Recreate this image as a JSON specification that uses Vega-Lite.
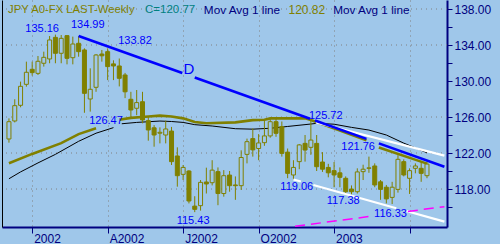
{
  "$schema": "https://vega.github.io/schema/vega-lite/v6.json",
  "width": 445,
  "height": 227,
  "autosize": {"type": "none"},
  "padding": {"left": 2, "top": 0, "right": 53, "bottom": 17},
  "background": "#9fc7ea",
  "config": {"view": {"stroke": null}, "font": "Liberation Sans"},
  "datasets": {
    "candles": [
      {"d":"2001-12-07","o":123.56,"h":125.85,"l":123.15,"c":125.48},
      {"d":"2001-12-14","o":125.56,"h":127.97,"l":125.4,"c":127.26},
      {"d":"2001-12-21","o":127.3,"h":129.93,"l":127.08,"c":129.41},
      {"d":"2001-12-28","o":129.63,"h":132.15,"l":129.37,"c":130.97},
      {"d":"2002-01-04","o":131.3,"h":132.15,"l":130.6,"c":130.93},
      {"d":"2002-01-11","o":130.85,"h":132.78,"l":130.67,"c":132.19},
      {"d":"2002-01-18","o":131.97,"h":133.26,"l":131.6,"c":132.63},
      {"d":"2002-01-25","o":132.45,"h":135.0,"l":131.97,"c":134.56},
      {"d":"2002-02-01","o":134.85,"h":135.16,"l":131.97,"c":133.08},
      {"d":"2002-02-08","o":133.08,"h":135.11,"l":131.97,"c":134.74},
      {"d":"2002-02-15","o":135.04,"h":135.1,"l":131.85,"c":132.52},
      {"d":"2002-02-22","o":132.59,"h":134.93,"l":131.85,"c":134.11},
      {"d":"2002-03-01","o":134.19,"h":134.99,"l":132.7,"c":133.26},
      {"d":"2002-03-08","o":133.45,"h":133.63,"l":126.47,"c":128.63},
      {"d":"2002-03-15","o":128.0,"h":131.41,"l":126.6,"c":129.08},
      {"d":"2002-03-22","o":129.3,"h":133.0,"l":128.8,"c":132.89},
      {"d":"2002-03-29","o":133.0,"h":133.45,"l":132.15,"c":132.8},
      {"d":"2002-04-05","o":133.26,"h":133.63,"l":130.1,"c":131.6},
      {"d":"2002-04-12","o":131.9,"h":132.3,"l":130.1,"c":131.67},
      {"d":"2002-04-19","o":131.67,"h":132.5,"l":129.4,"c":130.3},
      {"d":"2002-04-26","o":130.67,"h":130.9,"l":128.1,"c":128.8},
      {"d":"2002-05-03","o":127.97,"h":128.8,"l":125.86,"c":126.78},
      {"d":"2002-05-10","o":126.97,"h":129.0,"l":126.2,"c":127.6},
      {"d":"2002-05-17","o":127.7,"h":128.8,"l":125.3,"c":125.67},
      {"d":"2002-05-24","o":125.6,"h":126.04,"l":123.37,"c":124.56},
      {"d":"2002-05-31","o":124.8,"h":125.1,"l":122.7,"c":124.0},
      {"d":"2002-06-07","o":124.2,"h":124.85,"l":123.07,"c":124.3},
      {"d":"2002-06-14","o":124.0,"h":125.6,"l":123.07,"c":124.67},
      {"d":"2002-06-21","o":124.44,"h":124.9,"l":120.67,"c":121.04},
      {"d":"2002-06-28","o":121.67,"h":122.63,"l":118.26,"c":119.48},
      {"d":"2002-07-05","o":119.63,"h":120.67,"l":119.0,"c":120.4},
      {"d":"2002-07-12","o":120.0,"h":120.1,"l":116.4,"c":116.67},
      {"d":"2002-07-19","o":116.1,"h":117.2,"l":115.43,"c":115.74},
      {"d":"2002-07-26","o":116.15,"h":119.0,"l":115.6,"c":118.74},
      {"d":"2002-08-02","o":118.78,"h":120.37,"l":117.5,"c":118.56},
      {"d":"2002-08-09","o":118.7,"h":121.2,"l":118.4,"c":120.1},
      {"d":"2002-08-16","o":119.93,"h":120.4,"l":116.2,"c":117.5},
      {"d":"2002-08-23","o":117.5,"h":120.1,"l":117.15,"c":119.48},
      {"d":"2002-08-30","o":119.55,"h":120.0,"l":117.7,"c":118.37},
      {"d":"2002-09-06","o":118.45,"h":119.4,"l":116.8,"c":118.37},
      {"d":"2002-09-13","o":118.37,"h":122.3,"l":117.9,"c":121.5},
      {"d":"2002-09-20","o":121.85,"h":123.6,"l":120.85,"c":123.26},
      {"d":"2002-09-27","o":123.6,"h":124.74,"l":121.6,"c":122.35},
      {"d":"2002-10-04","o":122.5,"h":124.1,"l":121.2,"c":123.12},
      {"d":"2002-10-11","o":123.15,"h":125.67,"l":122.8,"c":123.9},
      {"d":"2002-10-18","o":123.9,"h":125.85,"l":123.7,"c":125.48},
      {"d":"2002-10-25","o":125.48,"h":125.85,"l":123.8,"c":124.19},
      {"d":"2002-11-01","o":124.93,"h":125.5,"l":121.6,"c":121.96},
      {"d":"2002-11-08","o":122.1,"h":122.5,"l":119.2,"c":119.74},
      {"d":"2002-11-15","o":119.56,"h":121.2,"l":119.06,"c":120.4},
      {"d":"2002-11-22","o":121.04,"h":123.0,"l":120.2,"c":122.9},
      {"d":"2002-11-29","o":123.07,"h":124.0,"l":121.04,"c":122.33},
      {"d":"2002-12-06","o":122.63,"h":125.72,"l":121.8,"c":123.44},
      {"d":"2002-12-13","o":123.07,"h":124.0,"l":120.0,"c":120.48},
      {"d":"2002-12-20","o":121.0,"h":122.1,"l":119.9,"c":120.2},
      {"d":"2002-12-27","o":120.4,"h":120.8,"l":119.3,"c":119.8},
      {"d":"2003-01-03","o":120.04,"h":121.0,"l":118.2,"c":119.56},
      {"d":"2003-01-10","o":119.8,"h":120.4,"l":118.2,"c":119.3},
      {"d":"2003-01-17","o":119.19,"h":119.4,"l":117.38,"c":117.7},
      {"d":"2003-01-24","o":118.0,"h":118.4,"l":117.4,"c":117.7},
      {"d":"2003-01-31","o":117.7,"h":120.3,"l":117.5,"c":119.9},
      {"d":"2003-02-07","o":119.93,"h":120.7,"l":119.0,"c":120.2},
      {"d":"2003-02-14","o":120.3,"h":121.6,"l":119.8,"c":120.35},
      {"d":"2003-02-21","o":120.56,"h":120.85,"l":118.2,"c":118.45},
      {"d":"2003-02-28","o":118.8,"h":119.0,"l":116.8,"c":117.96},
      {"d":"2003-03-07","o":118.2,"h":118.45,"l":116.4,"c":116.9},
      {"d":"2003-03-14","o":117.07,"h":118.8,"l":116.33,"c":118.2},
      {"d":"2003-03-21","o":117.96,"h":121.76,"l":117.6,"c":121.3},
      {"d":"2003-03-28","o":121.04,"h":121.3,"l":119.4,"c":119.56},
      {"d":"2003-04-04","o":119.19,"h":120.3,"l":117.45,"c":120.04},
      {"d":"2003-04-11","o":120.3,"h":120.85,"l":119.74,"c":120.56},
      {"d":"2003-04-18","o":120.3,"h":121.04,"l":118.8,"c":119.74},
      {"d":"2003-04-25","o":119.48,"h":121.04,"l":119.2,"c":120.77}
    ],
    "lines": [
      {"line":"ma1","seg":"a","d":"2001-12-07","p":120.86},
      {"line":"ma1","seg":"a","d":"2002-01-04","p":121.9},
      {"line":"ma1","seg":"a","d":"2002-02-08","p":123.1},
      {"line":"ma1","seg":"a","d":"2002-03-01","p":124.1},
      {"line":"ma1","seg":"a","d":"2002-03-22","p":124.75},
      {"line":"ma1","seg":"b","d":"2002-04-19","p":125.7},
      {"line":"ma1","seg":"b","d":"2002-05-03","p":125.9},
      {"line":"ma1","seg":"b","d":"2002-05-24","p":126.05},
      {"line":"ma1","seg":"b","d":"2002-06-07","p":126.15},
      {"line":"ma1","seg":"b","d":"2002-06-21","p":126.05},
      {"line":"ma1","seg":"b","d":"2002-07-05","p":125.85},
      {"line":"ma1","seg":"b","d":"2002-07-19","p":125.45},
      {"line":"ma1","seg":"b","d":"2002-08-02","p":125.3},
      {"line":"ma1","seg":"b","d":"2002-09-06","p":125.4},
      {"line":"ma1","seg":"b","d":"2002-09-27","p":125.65},
      {"line":"ma1","seg":"b","d":"2002-10-11","p":125.7},
      {"line":"ma1","seg":"b","d":"2002-10-18","p":125.85},
      {"line":"ma1","seg":"b","d":"2002-11-29","p":125.85},
      {"line":"ma1","seg":"b","d":"2002-12-06","p":125.67},
      {"line":"ma1","seg":"b","d":"2003-01-10","p":124.5},
      {"line":"ma1","seg":"b","d":"2003-02-11","p":123.41},
      {"line":"ma1","seg":"c","d":"2003-02-26","p":122.61},
      {"line":"ma1","seg":"c","d":"2003-04-25","p":120.82},
      {"line":"ma2","seg":"a","d":"2001-12-07","p":119.14},
      {"line":"ma2","seg":"a","d":"2001-12-21","p":119.9},
      {"line":"ma2","seg":"a","d":"2002-01-11","p":120.9},
      {"line":"ma2","seg":"a","d":"2002-02-01","p":121.85},
      {"line":"ma2","seg":"a","d":"2002-03-01","p":123.3},
      {"line":"ma2","seg":"a","d":"2002-03-22","p":124.2},
      {"line":"ma2","seg":"a","d":"2002-04-12","p":124.82},
      {"line":"ma2","seg":"b","d":"2002-04-22","p":125.25},
      {"line":"ma2","seg":"b","d":"2002-05-10","p":125.4},
      {"line":"ma2","seg":"b","d":"2002-06-07","p":125.55},
      {"line":"ma2","seg":"b","d":"2002-06-21","p":125.5},
      {"line":"ma2","seg":"b","d":"2002-07-05","p":125.4},
      {"line":"ma2","seg":"b","d":"2002-07-19","p":125.15},
      {"line":"ma2","seg":"b","d":"2002-08-09","p":125.0},
      {"line":"ma2","seg":"b","d":"2002-09-06","p":124.7},
      {"line":"ma2","seg":"b","d":"2002-09-27","p":124.65},
      {"line":"ma2","seg":"b","d":"2002-10-18","p":124.75},
      {"line":"ma2","seg":"b","d":"2002-11-08","p":124.95},
      {"line":"ma2","seg":"b","d":"2002-12-06","p":125.22},
      {"line":"ma2","seg":"b","d":"2002-12-13","p":125.3},
      {"line":"ma2","seg":"b","d":"2003-01-03","p":125.2},
      {"line":"ma2","seg":"b","d":"2003-01-24","p":124.85},
      {"line":"ma2","seg":"b","d":"2003-02-14","p":124.55},
      {"line":"ma2","seg":"b","d":"2003-03-07","p":124.0},
      {"line":"ma2","seg":"b","d":"2003-03-28","p":123.1},
      {"line":"ma2","seg":"b","d":"2003-04-25","p":122.03},
      {"line":"blue","seg":"1","d":"2002-03-01","p":134.99},
      {"line":"blue","seg":"1","d":"2002-07-04","p":130.88},
      {"line":"blue","seg":"2","d":"2002-07-19","p":130.38},
      {"line":"blue","seg":"2","d":"2002-12-05","p":125.8},
      {"line":"blue","seg":"3","d":"2002-12-11","p":125.61},
      {"line":"blue","seg":"3","d":"2003-02-11","p":123.57},
      {"line":"blue","seg":"4","d":"2003-02-26","p":123.07},
      {"line":"blue","seg":"4","d":"2003-05-16","p":120.47},
      {"line":"wu","seg":"1","d":"2002-12-12","p":125.39},
      {"line":"wu","seg":"1","d":"2003-05-16","p":121.71},
      {"line":"wl","seg":"1","d":"2002-11-15","p":119.06},
      {"line":"wl","seg":"1","d":"2002-11-24","p":118.83},
      {"line":"wl","seg":"2","d":"2002-12-09","p":118.44},
      {"line":"wl","seg":"2","d":"2003-03-19","p":115.87},
      {"line":"wl","seg":"3","d":"2003-03-31","p":115.56},
      {"line":"wl","seg":"3","d":"2003-05-16","p":114.38},
      {"line":"mg","seg":"1","d":"2002-11-17","p":113.86},
      {"line":"mg","seg":"1","d":"2003-02-17","p":114.98},
      {"line":"mg","seg":"2","d":"2003-04-02","p":115.51},
      {"line":"mg","seg":"2","d":"2003-05-16","p":116.04}
    ],
    "labels": [
      {"d":"2002-01-16","p":135.78,"t":"135.16","k":"price"},
      {"d":"2002-03-12","p":136.17,"t":"134.99","k":"price"},
      {"d":"2002-05-08","p":134.41,"t":"133.82","k":"price"},
      {"d":"2002-04-03","p":125.56,"t":"126.47","k":"price"},
      {"d":"2002-12-24","p":126.14,"t":"125.72","k":"price"},
      {"d":"2003-02-01","p":122.63,"t":"121.76","k":"price"},
      {"d":"2002-11-19","p":118.22,"t":"119.06","k":"price"},
      {"d":"2003-01-14","p":116.7,"t":"117.38","k":"price"},
      {"d":"2003-03-12","p":115.22,"t":"116.33","k":"price"},
      {"d":"2002-07-17","p":114.47,"t":"115.43","k":"price"},
      {"d":"2002-07-12","p":131.28,"t":"D","k":"wave"}
    ],
    "header": [
      {"d":"2001-12-06","p":137.89,"t":"JPY A0-FX LAST-Weekly","k":"sym"},
      {"d":"2002-05-20","p":137.89,"t":"C=120.77","k":"close"},
      {"d":"2002-07-30","p":137.89,"t":"Mov Avg 1 line","k":"ma"},
      {"d":"2002-11-09","p":137.89,"t":"120.82","k":"mav"},
      {"d":"2003-01-02","p":137.89,"t":"Mov Avg 1 line","k":"ma"}
    ],
    "gridlevels": [{"g": 118}, {"g": 122}, {"g": 126}, {"g": 134}, {"g": 138}]
  },
  "resolve": {"axis": {"y": "independent"}},
  "layer": [
    {
      "data": {"name": "candles"},
      "mark": {"type": "point", "opacity": 0},
      "encoding": {
        "y": {"field": "l", "type": "quantitative", "scale": {"domain": [113.78, 139], "nice": false, "zero": false},
          "axis": {"orient": "left", "labels": false, "ticks": false, "grid": false, "title": null,
            "domainColor": "#000000", "domainWidth": 1}}
      }
    },
    {
      "data": {"name": "gridlevels"},
      "mark": {"type": "rule", "color": "#808080", "strokeWidth": 1, "strokeDash": [1, 4]},
      "encoding": {
        "y": {"field": "g", "type": "quantitative", "scale": {"domain": [113.78, 139], "nice": false, "zero": false},
          "axis": {
            "orient": "right",
            "values": [116, 118, 120, 122, 124, 126, 128, 130, 132, 134, 136, 138],
            "labelExpr": "datum.value % 4 == 2 ? format(datum.value, '.2f') : ''",
            "title": null,
            "grid": false,
            "domainColor": "#000080", "domainWidth": 2,
            "tickColor": "#000080", "tickSize": 5, "tickWidth": 1,
            "labelColor": "#000080", "labelFont": "Liberation Sans", "labelFontSize": 12,
            "labelPadding": 2
          }}
      }
    },
    {
      "encoding": {
        "x": {
          "field": "d", "type": "temporal",
          "scale": {"type": "utc", "domain": [
            {"year": 2001, "month": 12, "date": 4, "hours": 15, "minutes": 30, "utc": true},
            {"year": 2003, "month": 5, "date": 13, "hours": 2, "minutes": 30, "utc": true}]},
          "axis": {
            "values": [
              {"year": 2002, "month": 1, "date": 4, "utc": true},
              {"year": 2002, "month": 4, "date": 5, "utc": true},
              {"year": 2002, "month": 7, "date": 5, "utc": true},
              {"year": 2002, "month": 10, "date": 4, "utc": true},
              {"year": 2003, "month": 1, "date": 3, "utc": true},
              {"year": 2003, "month": 4, "date": 4, "utc": true}],
            "labelExpr": "utcmonth(datum.value)==0 ? ''+utcyear(datum.value) : utcmonth(datum.value)==3 ? (utcyear(datum.value)==2003 ? '' : 'A'+utcyear(datum.value)) : utcmonth(datum.value)==6 ? 'J'+utcyear(datum.value) : 'O'+utcyear(datum.value)",
            "title": null,
            "grid": true, "gridColor": "#808080", "gridDash": [1, 4], "gridWidth": 1,
            "domainColor": "#000080", "domainWidth": 2,
            "tickColor": "#000080", "tickSize": 6, "tickWidth": 1,
            "labelColor": "#000080", "labelFont": "Liberation Sans", "labelFontSize": 12,
            "labelAlign": "left", "labelBaseline": "top", "labelPadding": 0, "labelOffset": 1.5,
            "labelFlush": false, "labelOverlap": false, "labelBound": false
          }
        }
      },
      "layer": [
        {
          "data": {"name": "lines"},
          "transform": [{"filter": "datum.line == 'ma2'"}],
          "mark": {"type": "line", "color": "#000000", "strokeWidth": 1, "clip": true},
          "encoding": {
            "y": {"field": "p", "type": "quantitative", "scale": {"domain": [113.78, 139], "nice": false, "zero": false}, "axis": null},
            "detail": {"field": "seg"}
          }
        },
        {
          "data": {"name": "lines"},
          "transform": [{"filter": "datum.line == 'ma1'"}],
          "mark": {"type": "line", "color": "#808000", "strokeWidth": 2.6, "clip": true},
          "encoding": {
            "y": {"field": "p", "type": "quantitative", "scale": {"domain": [113.78, 139], "nice": false, "zero": false}, "axis": null},
            "detail": {"field": "seg"}
          }
        },
        {
          "data": {"name": "candles"},
          "mark": {"type": "rule", "color": "#808000", "strokeWidth": 1},
          "encoding": {
            "y": {"field": "l", "type": "quantitative", "scale": {"domain": [113.78, 139], "nice": false, "zero": false}, "axis": null},
            "y2": {"field": "h"}
          }
        },
        {
          "data": {"name": "candles"},
          "mark": {"type": "bar", "size": 4, "stroke": "#808000", "strokeWidth": 1},
          "encoding": {
            "y": {"field": "o", "type": "quantitative", "scale": {"domain": [113.78, 139], "nice": false, "zero": false}, "axis": null},
            "y2": {"field": "c"},
            "fill": {"condition": {"test": "datum.c > datum.o", "value": "#9fc7ea"}, "value": "#808000"}
          }
        },
        {
          "data": {"name": "lines"},
          "transform": [{"filter": "datum.line == 'wu' || datum.line == 'wl'"}],
          "mark": {"type": "line", "color": "#ffffff", "strokeWidth": 2.2, "clip": true},
          "encoding": {
            "y": {"field": "p", "type": "quantitative", "scale": {"domain": [113.78, 139], "nice": false, "zero": false}, "axis": null},
            "detail": [{"field": "line"}, {"field": "seg"}]
          }
        },
        {
          "data": {"name": "lines"},
          "transform": [{"filter": "datum.line == 'mg'"}],
          "mark": {"type": "line", "color": "#ff00ff", "strokeWidth": 1.5, "strokeDash": [10, 6], "clip": true},
          "encoding": {
            "y": {"field": "p", "type": "quantitative", "scale": {"domain": [113.78, 139], "nice": false, "zero": false}, "axis": null},
            "detail": {"field": "seg"}
          }
        },
        {
          "data": {"name": "lines"},
          "transform": [{"filter": "datum.line == 'blue'"}],
          "mark": {"type": "line", "color": "#0000ff", "strokeWidth": 2.6, "clip": true},
          "encoding": {
            "y": {"field": "p", "type": "quantitative", "scale": {"domain": [113.78, 139], "nice": false, "zero": false}, "axis": null},
            "detail": {"field": "seg"}
          }
        },
        {
          "data": {"name": "labels"},
          "transform": [{"filter": "datum.k == 'price'"}],
          "mark": {"type": "text", "color": "#0000ff", "font": "Liberation Sans", "fontSize": 11, "align": "center", "baseline": "middle"},
          "encoding": {
            "y": {"field": "p", "type": "quantitative", "scale": {"domain": [113.78, 139], "nice": false, "zero": false}, "axis": null},
            "text": {"field": "t"}
          }
        },
        {
          "data": {"name": "labels"},
          "transform": [{"filter": "datum.k == 'wave'"}],
          "mark": {"type": "text", "color": "#0000ff", "font": "Liberation Sans", "fontSize": 15, "align": "center", "baseline": "middle"},
          "encoding": {
            "y": {"field": "p", "type": "quantitative", "scale": {"domain": [113.78, 139], "nice": false, "zero": false}, "axis": null},
            "text": {"field": "t"}
          }
        },
        {
          "data": {"name": "header"},
          "mark": {"type": "text", "font": "Liberation Sans", "align": "left", "baseline": "middle"},
          "encoding": {
            "y": {"field": "p", "type": "quantitative", "scale": {"domain": [113.78, 139], "nice": false, "zero": false}, "axis": null},
            "text": {"field": "t"},
            "color": {"field": "k", "type": "nominal", "legend": null,
              "scale": {"domain": ["sym", "close", "ma", "mav"], "range": ["#808000", "#008080", "#000080", "#808000"]}},
            "size": {"field": "k", "type": "nominal", "legend": null,
              "scale": {"domain": ["sym", "close", "ma", "mav"], "range": [11.3, 12, 11.3, 12]}}
          }
        }
      ]
    }
  ]
}
